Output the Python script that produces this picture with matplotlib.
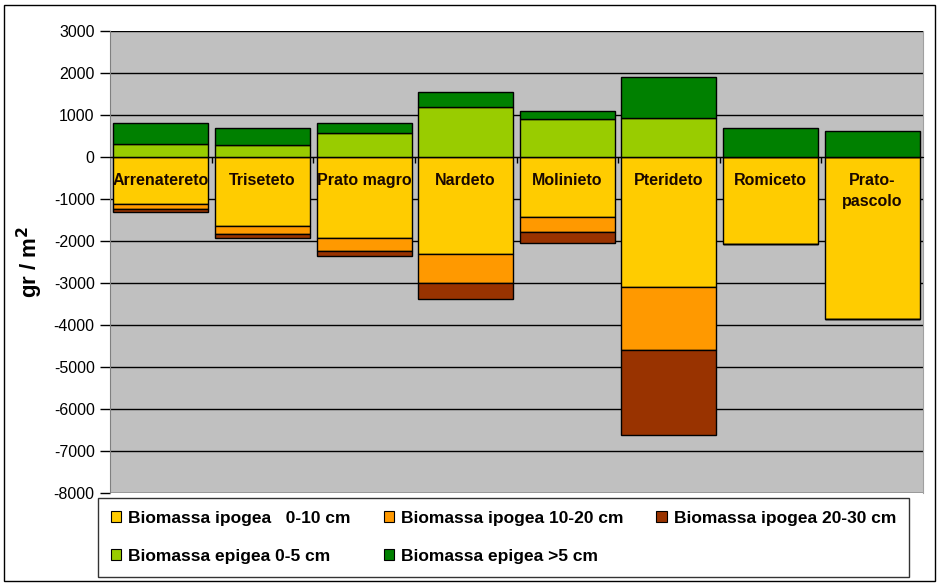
import matplotlib
matplotlib.use("Agg")
import matplotlib.pyplot as plt
from matplotlib.patches import Rectangle
import numpy as np

plt.rcParams["font.family"] = ["Liberation Sans", "DejaVu Sans"]

# categories (vegetation types)
categories = ["Arrenatereto", "Triseteto", "Prato magro", "Nardeto",
              "Molinieto", "Pterideto", "Romiceto", "Prato-\npascolo"]

# below-ground biomass (g/m2), plotted as negative values
ipogea_0_10 = [1130, 1650, 1920, 2300, 1420, 3100, 2080, 3850]
ipogea_10_20 = [110, 190, 310, 700, 370, 1500, 0, 0]
ipogea_20_30 = [80, 100, 130, 370, 260, 2020, 0, 0]

# above-ground biomass (g/m2)
epigea_0_5 = [300, 280, 580, 1200, 900, 930, 0, 0]
epigea_gt5 = [500, 420, 220, 350, 200, 970, 700, 630]

series_labels = ["Biomassa ipogea   0-10 cm", "Biomassa ipogea 10-20 cm",
                 "Biomassa ipogea 20-30 cm", "Biomassa epigea 0-5 cm",
                 "Biomassa epigea >5 cm"]

COLORS = ["#FFCC00", "#FF9900", "#993300", "#99CC00", "#008000"]

fig = plt.figure(figsize=(9.41, 5.85), dpi=100)
ax = fig.add_axes([110 / 941, 1 - 493 / 585, 813 / 941, 462 / 585])
ax.set_facecolor("#C0C0C0")

x = np.arange(len(categories))
w = 0.935
kw = dict(width=w, edgecolor="black", linewidth=1, zorder=3)

y1 = -np.array(ipogea_0_10)
y2 = -np.array(ipogea_10_20)
y3 = -np.array(ipogea_20_30)
h = []
h.append(ax.bar(x, y1, color=COLORS[0], **kw))
h.append(ax.bar(x, y2, bottom=y1, color=COLORS[1], **kw))
h.append(ax.bar(x, y3, bottom=y1 + y2, color=COLORS[2], **kw))
e1 = np.array(epigea_0_5)
e2 = np.array(epigea_gt5)
h.append(ax.bar(x, e1, color=COLORS[3], **kw))
h.append(ax.bar(x, e2, bottom=e1, color=COLORS[4], **kw))

# category names inside the bars, just under the zero line
for xi, name in zip(x, categories):
    for i, line in enumerate(name.split("\n")):
        ax.text(xi, -560 - i * 500, line, ha="center", va="center",
                fontsize=11.5, fontweight="bold", color="#1a0800", zorder=5)

ax.set_xlim(-0.5, len(categories) - 0.5)
ax.set_ylim(-8000, 3000)
ax.set_yticks(np.arange(-8000, 3001, 1000))
ax.set_yticklabels([str(v) for v in range(-8000, 3001, 1000)],
                   fontsize=11.5)
ax.set_axisbelow(True)
ax.yaxis.grid(True, color="black", linewidth=1)
ax.tick_params(axis="y", direction="out", length=7, width=1, color="black",
               pad=4)

# category axis crossing at zero
ax.spines["bottom"].set_position(("data", 0))
ax.spines["bottom"].set_color("black")
ax.spines["bottom"].set_zorder(4)
ax.set_xticks(np.arange(0.5, len(categories) - 0.5, 1))
ax.set_xticklabels([])
ax.tick_params(axis="x", direction="out", length=4, width=1, color="black")
ax.spines["left"].set_color("#808080")
ax.spines["top"].set_visible(False)
ax.spines["right"].set_color("#A0A0A0")

ax.set_ylabel("gr / m$^\\mathbf{2}$", fontsize=16, fontweight="bold",
              labelpad=6)

order = [0, 3, 1, 4, 2]
leg = fig.legend([h[i] for i in order], [series_labels[i] for i in order],
                 ncol=3, loc="upper left", mode="expand",
                 bbox_to_anchor=(98 / 941, 10 / 585, 811 / 941, 77 / 585),
                 frameon=True, fancybox=False, shadow=False,
                 prop=dict(size=12.5, weight="bold"),
                 handlelength=0.6, handleheight=0.6, handletextpad=0.4,
                 columnspacing=1.2, labelspacing=1.3, borderpad=0.75,
                 borderaxespad=0)
leg.get_frame().set_edgecolor("black")
leg.get_frame().set_linewidth(1)
for p in leg.get_patches():
    p.set_linewidth(0.8)

# outer chart border
fig.patches.append(Rectangle((4 / 941, 4 / 585), 931 / 941, 576 / 585,
                             transform=fig.transFigure, fill=False,
                             edgecolor="black", linewidth=1))

fig.savefig("out.png", dpi=100)
